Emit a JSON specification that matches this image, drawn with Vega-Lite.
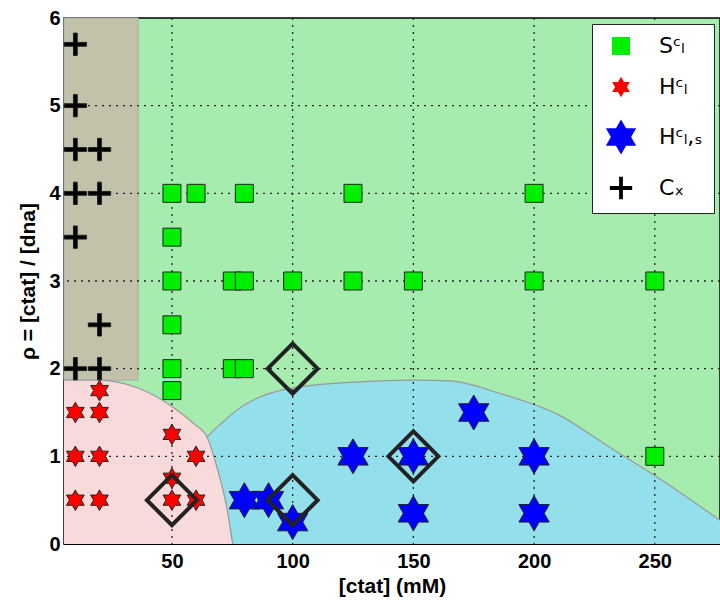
{
  "$schema": "https://vega.github.io/schema/vega-lite/v6.json",
  "autosize": {"type": "none"},
  "padding": {"left": 64, "top": 18, "right": 0, "bottom": 61},
  "width": 656,
  "height": 526,
  "config": {
    "view": {"stroke": "#000", "strokeWidth": 1.5, "fill": "#a6ecae"},
    "font": "Liberation Sans",
    "axis": {
      "labelFont": "Liberation Sans", "labelFontWeight": "bold", "labelFontSize": 20, "labelColor": "#000",
      "titleFont": "Liberation Sans", "titleFontWeight": "bold", "titleFontSize": 21, "titleColor": "#000",
      "domainColor": "#000", "tickColor": "#000", "grid": false
    },
    "legend": {
      "orient": "top-right", "offset": 6, "fillColor": "#ffffff", "strokeColor": "#222222",
      "padding": 11, "rowPadding": 17, "labelFont": "DejaVu Sans", "labelFontSize": 22, "labelColor": "#000",
      "labelOffset": 20, "symbolOpacity": 1, "symbolStrokeColor": "#222222", "symbolStrokeWidth": 1
    }
  },
  "datasets": {
    "pts": [
      {"x": 10, "y": 5.7, "cls": "C"}, {"x": 10, "y": 5, "cls": "C"}, {"x": 10, "y": 4.5, "cls": "C"}, {"x": 20, "y": 4.5, "cls": "C"},
      {"x": 10, "y": 4, "cls": "C"}, {"x": 20, "y": 4, "cls": "C"}, {"x": 10, "y": 3.5, "cls": "C"}, {"x": 20, "y": 2.5, "cls": "C"},
      {"x": 10, "y": 2, "cls": "C"}, {"x": 20, "y": 2, "cls": "C"},
      {"x": 50, "y": 4, "cls": "S"}, {"x": 60, "y": 4, "cls": "S"}, {"x": 80, "y": 4, "cls": "S"}, {"x": 125, "y": 4, "cls": "S"}, {"x": 200, "y": 4, "cls": "S"},
      {"x": 50, "y": 3.5, "cls": "S"},
      {"x": 50, "y": 3, "cls": "S"}, {"x": 75, "y": 3, "cls": "S"}, {"x": 80, "y": 3, "cls": "S"}, {"x": 100, "y": 3, "cls": "S"}, {"x": 125, "y": 3, "cls": "S"}, {"x": 150, "y": 3, "cls": "S"}, {"x": 200, "y": 3, "cls": "S"}, {"x": 250, "y": 3, "cls": "S"},
      {"x": 50, "y": 2.5, "cls": "S"}, {"x": 50, "y": 2, "cls": "S"}, {"x": 75, "y": 2, "cls": "S"}, {"x": 80, "y": 2, "cls": "S"}, {"x": 50, "y": 1.75, "cls": "S"}, {"x": 250, "y": 1, "cls": "S"},
      {"x": 20, "y": 1.75, "cls": "HI"}, {"x": 10, "y": 1.5, "cls": "HI"}, {"x": 20, "y": 1.5, "cls": "HI"}, {"x": 10, "y": 1, "cls": "HI"}, {"x": 20, "y": 1, "cls": "HI"},
      {"x": 10, "y": 0.5, "cls": "HI"}, {"x": 20, "y": 0.5, "cls": "HI"}, {"x": 50, "y": 1.25, "cls": "HI"}, {"x": 60, "y": 1, "cls": "HI"}, {"x": 50, "y": 0.75, "cls": "HI"},
      {"x": 50, "y": 0.5, "cls": "HI"}, {"x": 60, "y": 0.5, "cls": "HI"},
      {"x": 80, "y": 0.5, "cls": "HIs"}, {"x": 90, "y": 0.5, "cls": "HIs"}, {"x": 100, "y": 0.25, "cls": "HIs"}, {"x": 125, "y": 1, "cls": "HIs"}, {"x": 150, "y": 1, "cls": "HIs"},
      {"x": 150, "y": 0.35, "cls": "HIs"}, {"x": 175, "y": 1.5, "cls": "HIs"}, {"x": 200, "y": 1, "cls": "HIs"}, {"x": 200, "y": 0.35, "cls": "HIs"}
    ],
    "diam": [{"x": 50, "y": 0.5}, {"x": 100, "y": 2}, {"x": 100, "y": 0.5}, {"x": 150, "y": 1}],
    "gray": [{"x1": 5.3, "x2": 36, "y1": 1.87, "y2": 6}],
    "pink": [
      {"x": 5.3, "y": 1.87}, {"x": 19, "y": 1.87}, {"x": 36, "y": 1.78}, {"x": 50.5, "y": 1.56}, {"x": 58.7, "y": 1.38},
      {"x": 64.5, "y": 1.22}, {"x": 68.6, "y": 0.88}, {"x": 72.7, "y": 0.42}, {"x": 75.2, "y": 0}
    ],
    "blue": [
      {"x": 64.5, "top": 1.22, "bottom": 1.22}, {"x": 68.6, "top": 1.33, "bottom": 0.88}, {"x": 72.7, "top": 1.43, "bottom": 0.42},
      {"x": 75.2, "top": 1.49, "bottom": 0}, {"x": 100, "top": 1.78, "bottom": 0}, {"x": 127.7, "top": 1.85, "bottom": 0},
      {"x": 150, "top": 1.87, "bottom": 0}, {"x": 165, "top": 1.86, "bottom": 0}, {"x": 185.6, "top": 1.72, "bottom": 0},
      {"x": 210.4, "top": 1.47, "bottom": 0}, {"x": 231, "top": 1.11, "bottom": 0}, {"x": 251.7, "top": 0.75, "bottom": 0},
      {"x": 277, "top": 0.27, "bottom": 0}
    ],
    "gx": [{"v": 50}, {"v": 100}, {"v": 150}, {"v": 200}, {"v": 250}],
    "gy": [{"v": 1}, {"v": 2}, {"v": 3}, {"v": 4}, {"v": 5}]
  },
  "layer": [
    {
      "data": {"name": "gray"},
      "mark": {"type": "rect", "fill": "#c2c2aa", "stroke": "#aaaaaa", "strokeWidth": 1},
      "encoding": {
        "x": {"field": "x1", "type": "quantitative", "scale": {"domain": [5.3, 277], "nice": false, "zero": false},
              "axis": {"values": [50, 100, 150, 200, 250], "title": "[ctat] (mM)", "tickSize": -5, "labelPadding": 12, "titlePadding": 4}},
        "x2": {"field": "x2"},
        "y": {"field": "y1", "type": "quantitative", "scale": {"domain": [0, 6], "nice": false},
              "axis": {"values": [0, 1, 2, 3, 4, 5, 6], "format": "d", "title": "ρ = [ctat] / [dna]", "tickSize": -5, "labelPadding": 9, "titlePadding": 10}},
        "y2": {"field": "y2"}
      }
    },
    {
      "data": {"name": "pink"},
      "mark": {"type": "area", "fill": "#f8dada", "interpolate": "monotone"},
      "encoding": {
        "x": {"field": "x", "type": "quantitative"},
        "y": {"field": "y", "type": "quantitative"},
        "y2": {"datum": 0}
      }
    },
    {
      "data": {"name": "blue"},
      "mark": {"type": "area", "fill": "#93e0ec", "interpolate": "monotone"},
      "encoding": {
        "x": {"field": "x", "type": "quantitative"},
        "y": {"field": "top", "type": "quantitative"},
        "y2": {"field": "bottom"}
      }
    },
    {
      "data": {"name": "pink"},
      "mark": {"type": "line", "stroke": "#999999", "strokeWidth": 1.2, "interpolate": "monotone"},
      "encoding": {
        "x": {"field": "x", "type": "quantitative"},
        "y": {"field": "y", "type": "quantitative"}
      }
    },
    {
      "data": {"name": "blue"},
      "mark": {"type": "line", "stroke": "#999999", "strokeWidth": 1.2, "interpolate": "monotone"},
      "encoding": {
        "x": {"field": "x", "type": "quantitative"},
        "y": {"field": "top", "type": "quantitative"}
      }
    },
    {
      "data": {"name": "gx"},
      "mark": {"type": "rule", "stroke": "#222222", "strokeWidth": 1.3, "strokeDash": [2, 5]},
      "encoding": {"x": {"field": "v", "type": "quantitative"}}
    },
    {
      "data": {"name": "gy"},
      "mark": {"type": "rule", "stroke": "#222222", "strokeWidth": 1.3, "strokeDash": [2, 5]},
      "encoding": {"y": {"field": "v", "type": "quantitative"}}
    },
    {
      "data": {"name": "pts"},
      "mark": {"type": "point", "filled": true, "opacity": 1, "stroke": "#222222", "strokeWidth": 1},
      "encoding": {
        "x": {"field": "x", "type": "quantitative"},
        "y": {"field": "y", "type": "quantitative"},
        "shape": {"field": "cls", "type": "nominal",
          "scale": {"domain": ["S", "HI", "HIs", "C"],
                    "range": ["square",
                              "M0,-1L0.289,-0.5L0.866,-0.5L0.577,0L0.866,0.5L0.289,0.5L0,1L-0.289,0.5L-0.866,0.5L-0.577,0L-0.866,-0.5L-0.289,-0.5Z",
                              "M0,-1L0.289,-0.5L0.866,-0.5L0.577,0L0.866,0.5L0.289,0.5L0,1L-0.289,0.5L-0.866,0.5L-0.577,0L-0.866,-0.5L-0.289,-0.5Z",
                              "M-1,-0.17L-0.17,-0.17L-0.17,-1L0.17,-1L0.17,-0.17L1,-0.17L1,0.17L0.17,0.17L0.17,1L-0.17,1L-0.17,0.17L-1,0.17Z"]},
          "legend": {"title": null, "labelExpr": "datum.label == 'S' ? 'Sᶜₗ' : datum.label == 'HI' ? 'Hᶜₗ' : datum.label == 'HIs' ? 'Hᶜₗ,ₛ' : 'Cₓ'"}},
        "fill": {"field": "cls", "type": "nominal",
          "scale": {"domain": ["S", "HI", "HIs", "C"], "range": ["#00ee00", "#ff0000", "#0000ff", "#000000"]},
          "legend": {"title": null, "labelExpr": "datum.label == 'S' ? 'Sᶜₗ' : datum.label == 'HI' ? 'Hᶜₗ' : datum.label == 'HIs' ? 'Hᶜₗ,ₛ' : 'Cₓ'"}},
        "size": {"field": "cls", "type": "nominal",
          "scale": {"type": "ordinal", "domain": ["S", "HI", "HIs", "C"], "range": [324, 420, 1225, 500]},
          "legend": {"title": null, "labelExpr": "datum.label == 'S' ? 'Sᶜₗ' : datum.label == 'HI' ? 'Hᶜₗ' : datum.label == 'HIs' ? 'Hᶜₗ,ₛ' : 'Cₓ'"}}
      }
    },
    {
      "data": {"name": "diam"},
      "mark": {"type": "point", "shape": "diamond", "filled": false, "size": 2500, "stroke": "#222222", "strokeWidth": 4, "opacity": 1},
      "encoding": {
        "x": {"field": "x", "type": "quantitative"},
        "y": {"field": "y", "type": "quantitative"}
      }
    }
  ]
}
